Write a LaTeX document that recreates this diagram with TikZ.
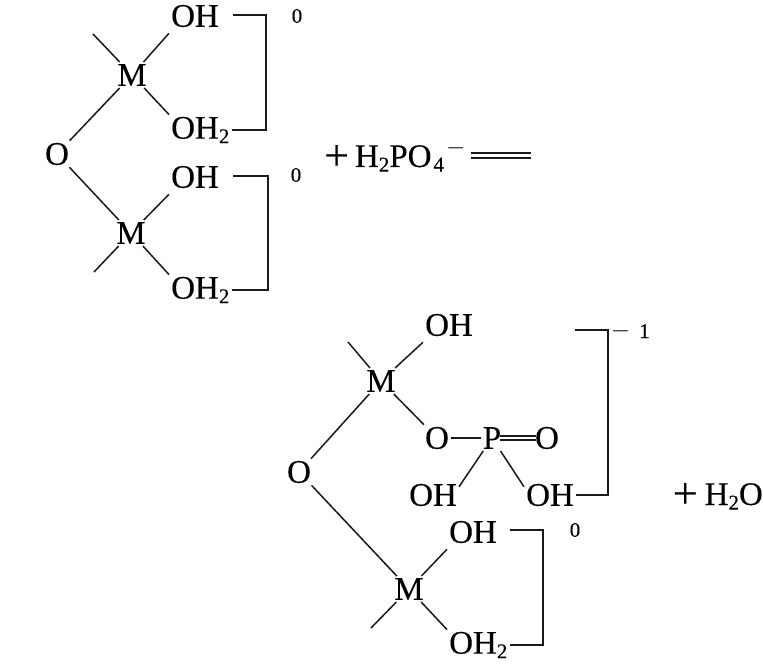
\documentclass[tikz,border=0pt]{standalone}
\usepackage{fontspec}
\setmainfont{Liberation Serif}[FakeBold=0.25]
\tikzset{
  atom/.style = {inner sep=2pt, font=\fontsize{33}{35}\selectfont},
  charge/.style = {inner sep=0pt, font=\fontsize{21}{23}\selectfont},
  bond/.style = {line width=1.5pt, black!90},
}
\newcommand{\sub}[1]{\raisebox{-0.3ex}{\fontsize{21}{22}\selectfont #1}}
\newcommand{\plussign}{\raisebox{-3pt}{\fontsize{44}{44}\selectfont +}}
\newcommand{\dashsign}{{\fontsize{24}{24}\selectfont $-$}}
\begin{document}
\begin{tikzpicture}[x=1pt,y=-1pt]
\useasboundingbox (0,0) rectangle (763,666);
% upper complex
\node[atom] (m1) at (132,75) {M};
\node[atom] (oh1) at (195,16) {OH};
\node[atom,anchor=west] (oh2a) at (169,130) {OH\sub{2}};
\node[atom] (o1) at (57,154) {O};
\node[atom] (m2) at (131,233) {M};
\node[atom] (oh2) at (195,177) {OH};
\node[atom,anchor=west] (oh2b) at (169,290) {OH\sub{2}};
\coordinate (t1) at (93,34);
\coordinate (t2) at (94,272);
\coordinate (b1) at (233,15);
\coordinate (b2) at (233,176);
\draw[bond] (m1) -- (t1);
\draw[bond] (m1) -- ([yshift=-4pt]oh1.south west);
\draw[bond] (m1) -- (oh2a.north west);
\draw[bond] (m1) -- (o1);
\draw[bond] (o1) -- (m2);
\draw[bond] (m2) -- ([yshift=-4pt]oh2.south west);
\draw[bond] (m2) -- (oh2b.north west);
\draw[bond] (m2) -- (t2);
\draw[bond] (b1) -- ++(33,0) |- (oh2a.east);
\draw[bond] (b2) -- ++(35,0) |- (oh2b.east);
\node[charge] (c1) at (297,16) {0};
\node[charge] (c2) at (296,175) {0};
\node[atom,anchor=base west] (plus1) at (322,167) {\plussign\hspace{6pt}H\sub{2}PO\hspace{2pt}\sub{4}\hspace{2pt}\raisebox{13pt}{\dashsign}};
\coordinate (eqa) at (471,153);
\coordinate (eqb) at (531,153);
\coordinate (eqc) at (471,158);
\coordinate (eqd) at (531,158);
\draw[bond] (eqa) -- (eqb);
\draw[bond] (eqc) -- (eqd);
% lower complex
\node[atom] (m3) at (381,381) {M};
\node[atom] (oh3) at (449,325) {OH};
\node[atom] (o3) at (437,438) {O};
\node[atom] (p) at (492,438) {P};
\node[atom] (o4) at (547,438) {O};
\node[atom] (oh4) at (433,495) {OH};
\node[atom] (oh5) at (550,495) {OH};
\node[atom] (o2) at (299,472) {O};
\node[atom] (m4) at (409,589) {M};
\node[atom] (oh6) at (473,532) {OH};
\node[atom,anchor=west] (oh2c) at (447,645) {OH\sub{2}};
\coordinate (t3) at (348,342);
\coordinate (t4) at (371,628);
\draw[bond] (m3) -- (t3);
\draw[bond] (m3) -- ([yshift=-4pt]oh3.south west);
\draw[bond] (m3) -- (o3);
\draw[bond] (m3) -- (o2);
\draw[bond] (o3) -- (p);
\draw[bond,double,double distance=2.5pt,shorten <=-3pt,shorten >=-3pt] (p) -- (o4);
\draw[bond] (p) -- ([yshift=-5pt]oh4.north east);
\draw[bond] (p) -- ([yshift=-5pt]oh5.north west);
\draw[bond] (o2) -- (m4);
\draw[bond] (m4) -- ([yshift=-4pt]oh6.south west);
\draw[bond] (m4) -- (oh2c.north west);
\draw[bond] (m4) -- (t4);
\coordinate (b3) at (575,330);
\coordinate (b4) at (510,530);
\draw[bond] (b3) -- ++(33,0) |- (oh5.east);
\draw[bond] (b4) -- ++(33,0) |- (oh2c.east);
\node[charge,anchor=base east] (c3) at (650,338) {\raisebox{1pt}{\dashsign}\hspace{9pt}1};
\node[charge] (c4) at (575,530) {0};
\node[atom,anchor=base east] (plus2) at (765,505) {\plussign\hspace{7pt}H\sub{2}O};
\end{tikzpicture}
\end{document}
